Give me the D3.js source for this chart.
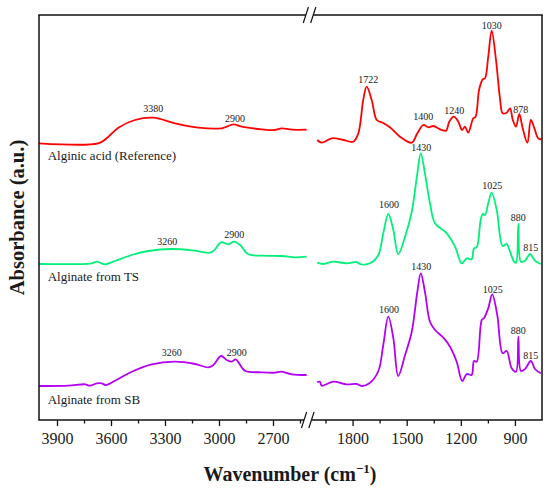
<!DOCTYPE html>
<html>
<head>
<meta charset="utf-8">
<script src="https://cdn.jsdelivr.net/npm/d3@7"></script>
<style>
  body { margin: 0; background: #fff; }
  text { font-family: "Liberation Serif", "Times New Roman", serif; fill: #1a1a1a; }
</style>
</head>
<body>
<div id="chart"></div>
<script>
//============== data ===============//

// [wavenumber (cm-1), absorbance (a.u., offset per trace)]
const redLeft = [[4000,2.767],[3671,2.767],[3624,2.817],[3559,2.923],[3467,3.0],[3365,3.023],[3244,2.967],
  [3115,2.923],[2985,2.917],[2957,2.933],[2920,2.957],[2874,2.933],[2763,2.907],[2689,2.9],[2652,2.917],
  [2596,2.903],[2513,2.903]]
const redRight = [[1996,2.8],[1971,2.773],[1916,2.817],[1851,2.8],[1796,2.783],[1768,2.867],[1741,3.2],
  [1722,3.333],[1694,3.2],[1666,3.0],[1633,2.973],[1593,2.927],[1537,2.833],[1472,2.773],[1441,2.867],
  [1408,2.95],[1380,2.927],[1353,2.94],[1315,2.907],[1282,2.893],[1264,2.983],[1238,3.033],[1214,2.983],
  [1193,2.9],[1177,2.933],[1159,2.873],[1131,3.017],[1118,3.033],[1099,3.3],[1079,3.407],[1066,3.417],
  [1048,3.633],[1029,3.893],[1005,3.6],[983,3.217],[968,3.067],[946,3.073],[927,3.117],[912,3.0],
  [894,2.933],[876,3.06],[857,2.917],[831,2.773],[812,3.0],[794,2.927],[771,2.817],[752,2.807]]

const greenLeft = [[4000,1.56],[3707,1.567],[3679,1.583],[3661,1.573],[3633,1.557],[3578,1.59],[3485,1.65],
  [3393,1.69],[3263,1.71],[3133,1.693],[3050,1.673],[3022,1.707],[2989,1.777],[2948,1.757],[2917,1.783],
  [2883,1.75],[2837,1.657],[2763,1.643],[2652,1.64],[2578,1.627],[2513,1.633]]
const greenRight = [[1996,1.573],[1962,1.56],[1907,1.583],[1833,1.567],[1777,1.58],[1759,1.56],[1703,1.567],
  [1657,1.65],[1630,1.867],[1602,2.06],[1574,1.9],[1547,1.657],[1509,1.833],[1472,2.083],[1441,2.467],
  [1422,2.667],[1399,2.467],[1371,2.167],[1343,1.967],[1278,1.867],[1232,1.733],[1195,1.567],[1167,1.617],
  [1140,1.607],[1127,1.717],[1112,1.727],[1090,2.0],[1079,2.06],[1066,2.05],[1048,2.167],[1029,2.273],
  [1001,2.1],[968,1.74],[946,1.76],[927,1.683],[905,1.583],[894,1.573],[881,1.96],[867,1.583],[844,1.593],
  [816,1.66],[789,1.593],[757,1.56]]

const purpleLeft = [[4000,0.34],[3837,0.343],[3744,0.357],[3717,0.343],[3679,0.367],[3652,0.367],[3629,0.35],
  [3578,0.393],[3485,0.483],[3374,0.557],[3244,0.583],[3133,0.56],[3059,0.527],[3031,0.55],[2989,0.64],
  [2957,0.6],[2929,0.583],[2907,0.607],[2856,0.493],[2763,0.477],[2689,0.473],[2656,0.483],[2596,0.457],
  [2513,0.45]]
const purpleRight = [[1996,0.377],[1981,0.383],[1971,0.343],[1907,0.383],[1833,0.357],[1777,0.36],[1749,0.34],
  [1707,0.367],[1657,0.49],[1630,0.75],[1602,1.033],[1574,0.817],[1547,0.44],[1509,0.65],[1472,0.883],
  [1441,1.283],[1422,1.467],[1399,1.283],[1371,0.983],[1343,0.9],[1297,0.823],[1260,0.733],[1223,0.583],
  [1192,0.39],[1167,0.46],[1140,0.45],[1127,0.59],[1112,0.583],[1084,1.0],[1072,1.017],[1048,1.117],
  [1026,1.257],[998,1.05],[968,0.667],[946,0.69],[918,0.517],[894,0.483],[881,0.833],[867,0.49],[844,0.51],
  [812,0.59],[789,0.51],[757,0.467]]

// peak labels: [text, wavenumber, absorbance]
const redPeaks = [["3380",3365,3.117],["2900",2911,3.017],["1722",1713,3.407],["1400",1408,3.033],
  ["1240",1236,3.093],["1030",1029,3.95],["878",868,3.107]]
const greenPeaks = [["3260",3287,1.783],["2900",2915,1.857],["1600",1598,2.16],["1430",1419,2.727],
  ["1025",1026,2.35],["880",881,2.023],["815",813,1.723]]
const purplePeaks = [["3260",3263,0.673],["2900",2902,0.68],["1600",1598,1.107],["1430",1419,1.533],
  ["1025",1023,1.31],["880",881,0.9],["815",813,0.65]]

const seriesNames = ["Alginic acid (Reference)", "Alginate from TS", "Alginate from SB"]
const seriesColors = ["#ff0000", "#00f07a", "#b400f5"]
const nameAbs = [2.6, 1.39, 0.157]

const leftTicks = [3900, 3600, 3300, 3000, 2700]
const leftMinor = [3750, 3450, 3150, 2850, 2550]
const rightTicks = [1800, 1500, 1200, 900]
const rightMinor = [1950, 1650, 1350, 1050]

//============== env ===============//

const W = 550, H = 492
const margin = {top: 15, right: 8, bottom: 72, left: 39}
const plotBottom = H - margin.bottom
const plotRight = W - margin.right

const svg = d3.select("#chart").append("svg")
  .attr("width", W).attr("height", H)

// broken x axis: two linear pieces
const xL = d3.scaleLinear().domain([4000, 2500]).range([margin.left, 309])
const xR = d3.scaleLinear().domain([2000, 750]).range([316.5, plotRight])
const y = d3.scaleLinear().domain([0, 4.05]).range([plotBottom, margin.top])

const xOf = wn => wn > 2250 ? xL(wn) : xR(wn)

// curves
const line = scale => d3.line()
  .x(d => scale(d[0]))
  .y(d => y(d[1]))
  .curve(d3.curveCatmullRom.alpha(0.5))

const traces = [
  [redLeft, redRight], [greenLeft, greenRight], [purpleLeft, purpleRight]
]
traces.forEach((pair, i) => {
  svg.append("path").attr("d", line(xL)(pair[0]))
    .attr("fill", "none").attr("stroke", seriesColors[i]).attr("stroke-width", 1.8)
  svg.append("path").attr("d", line(xR)(pair[1]))
    .attr("fill", "none").attr("stroke", seriesColors[i]).attr("stroke-width", 1.8)
})

// peak annotations
;[redPeaks, greenPeaks, purplePeaks].forEach(peaks => {
  svg.selectAll(null).data(peaks).join("text")
    .attr("x", d => xOf(d[1]))
    .attr("y", d => y(d[2]))
    .attr("text-anchor", "middle")
    .attr("dominant-baseline", "central")
    .style("font-size", "10px")
    .text(d => d[0])
})

// trace names
svg.selectAll(null).data(seriesNames).join("text")
  .attr("x", xL(3952))
  .attr("y", (d, i) => y(nameAbs[i]))
  .style("font-size", "13px")
  .text(d => d)

// axes (ticks only, frame drawn by hand)
const addAxis = (scale, vals, size, labels) => {
  const g = svg.append("g")
    .attr("transform", `translate(0,${plotBottom})`)
    .call(d3.axisBottom(scale).tickValues(vals).tickSize(size).tickSizeOuter(0)
      .tickPadding(7).tickFormat(labels ? d3.format("d") : ""))
  g.select(".domain").remove()
  g.selectAll(".tick line").attr("stroke", "#111").attr("stroke-width", 1.3)
  g.selectAll(".tick text").style("font-size", "16px").style("font-family", "Liberation Serif, serif")
    .attr("fill", "#1a1a1a")
}
addAxis(xL, leftTicks, 6, true)
addAxis(xL, leftMinor, 3.5, false)
addAxis(xR, rightTicks, 6, true)
addAxis(xR, rightMinor, 3.5, false)

// frame with break
const frame = svg.append("g").attr("stroke", "#111").attr("stroke-width", 1.5).attr("fill", "none")
const gapMid = (xL(2500) + xR(2000)) / 2
const topBreak = gapMid - 3.2, botBreak = gapMid - 5
frame.append("line").attr("x1", margin.left).attr("x2", margin.left).attr("y1", margin.top).attr("y2", plotBottom)
frame.append("line").attr("x1", plotRight).attr("x2", plotRight).attr("y1", margin.top).attr("y2", plotBottom)
frame.append("line").attr("x1", margin.left - 0.75).attr("x2", topBreak - 3.7).attr("y1", margin.top).attr("y2", margin.top)
frame.append("line").attr("x1", topBreak + 3.7).attr("x2", plotRight + 0.75).attr("y1", margin.top).attr("y2", margin.top)
frame.append("line").attr("x1", margin.left - 0.75).attr("x2", botBreak - 3.7).attr("y1", plotBottom).attr("y2", plotBottom)
frame.append("line").attr("x1", botBreak + 3.7).attr("x2", plotRight + 0.75).attr("y1", plotBottom).attr("y2", plotBottom)

// the two "//" marks
;[[topBreak, margin.top], [botBreak, plotBottom]].forEach(([cx, cy]) => {
  ;[-3.7, 3.7].forEach(dx => {
    frame.append("line")
      .attr("x1", cx + dx - 2.6).attr("y1", cy + 8)
      .attr("x2", cx + dx + 2.6).attr("y2", cy - 8)
      .attr("stroke-width", 1.2)
  })
})

// axis titles
const xTitle = svg.append("text")
  .attr("x", 290).attr("y", 481)
  .attr("text-anchor", "middle")
  .style("font-size", "20px").style("font-weight", "bold")
xTitle.append("tspan").text("Wavenumber (cm")
xTitle.append("tspan").attr("dy", -8).style("font-size", "13px").text("\u22121")
xTitle.append("tspan").attr("dy", 8).text(")")

svg.append("text")
  .attr("transform", `translate(24,${(margin.top + plotBottom) / 2})rotate(-90)`)
  .attr("text-anchor", "middle")
  .style("font-size", "20.5px").style("font-weight", "bold")
  .text("Absorbance (a.u.)")
</script>
</body>
</html>
